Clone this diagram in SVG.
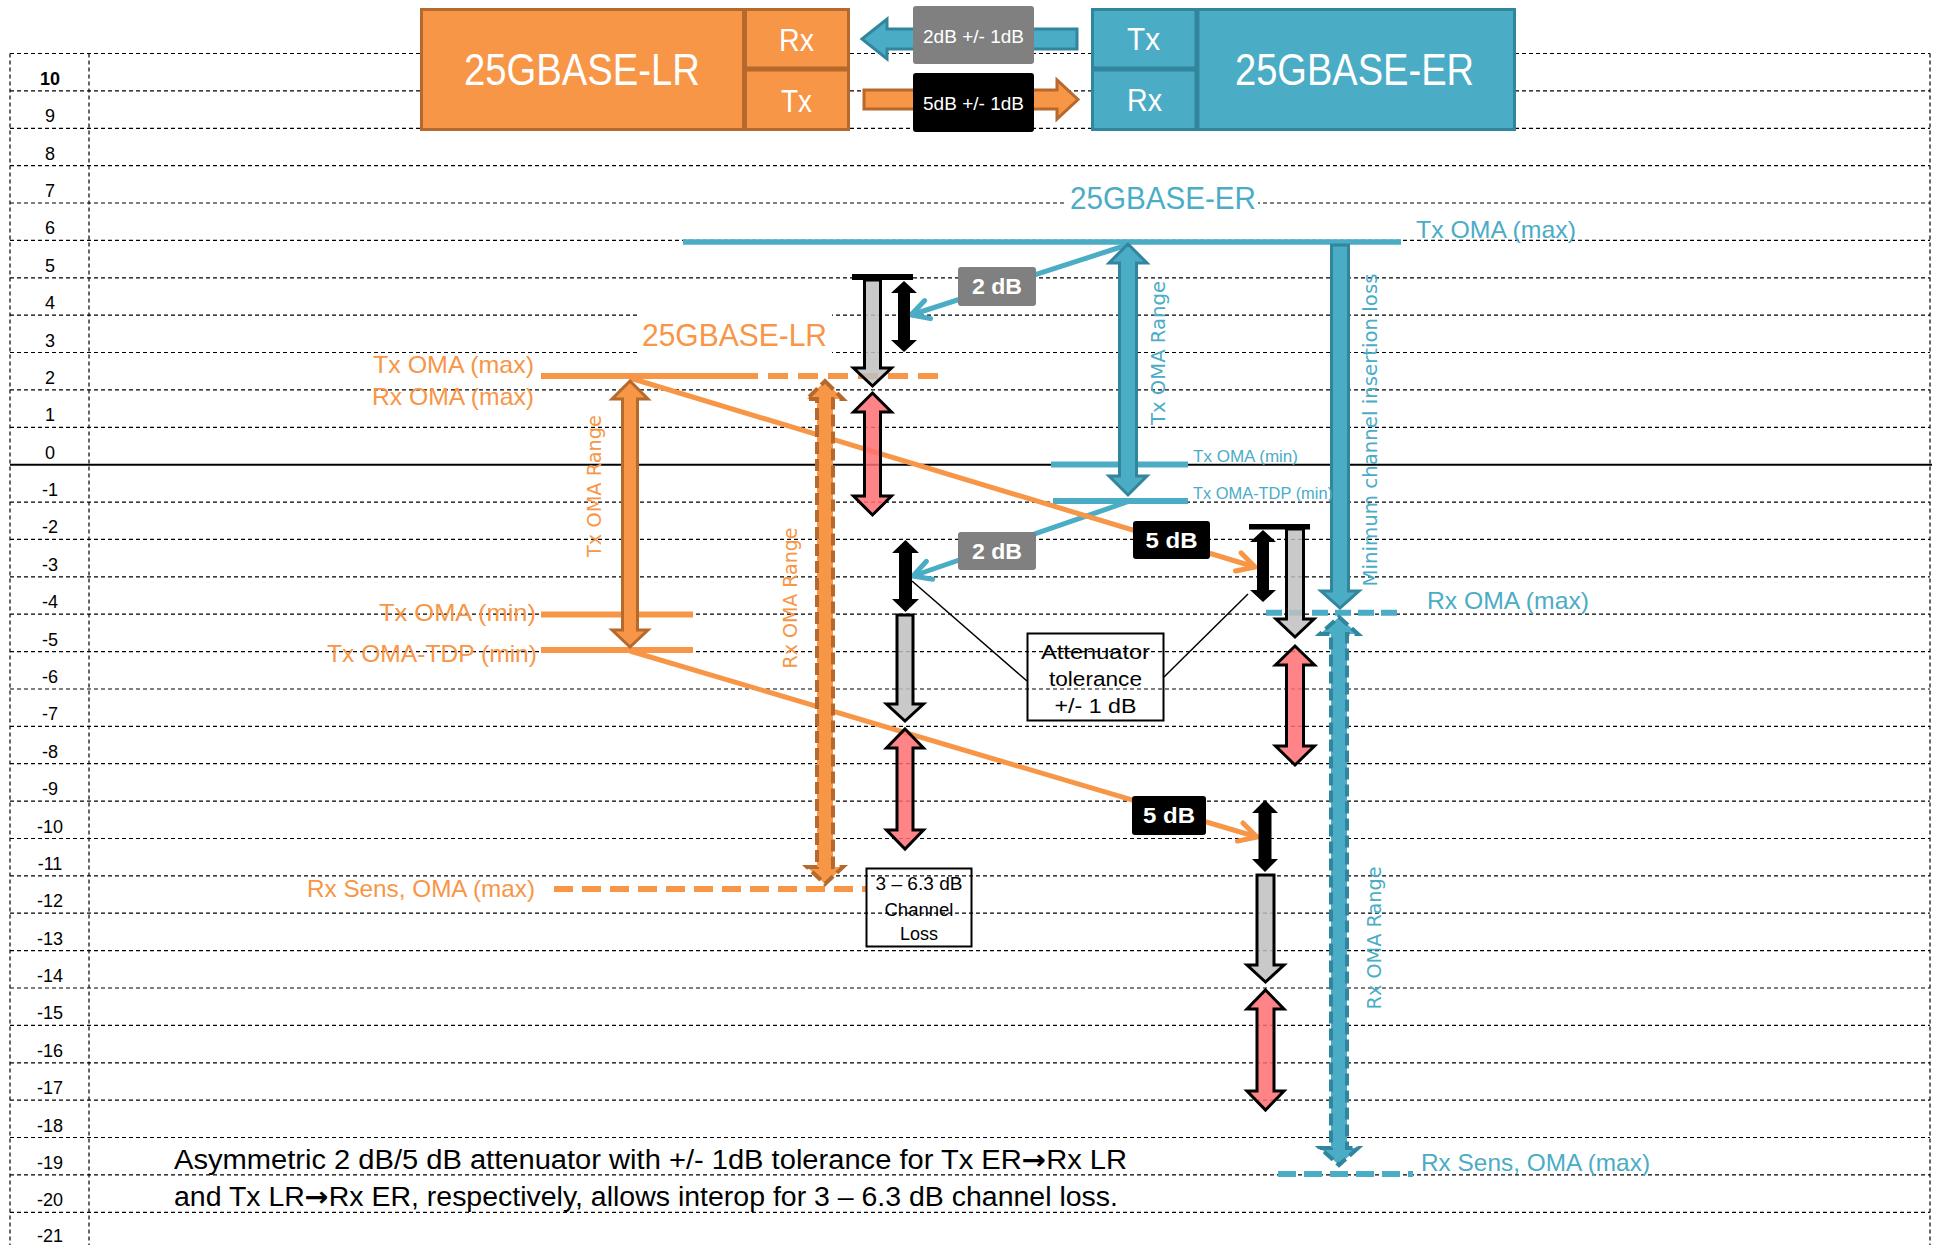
<svg xmlns="http://www.w3.org/2000/svg" width="1934" height="1245" viewBox="0 0 1934 1245">
<defs>
<style>
.t{font-family:"Liberation Sans",Arial,sans-serif}
.v{font-family:"DejaVu Sans",Verdana,sans-serif;font-size:19px}
.grid{stroke:#000;stroke-width:1.2;stroke-dasharray:4 3;fill:none}
.ax{font-family:"Liberation Sans",Arial,sans-serif;font-size:18px;text-anchor:middle;fill:#000}
.or{fill:#F79646}
.cy{fill:#4BACC6}
.orA{fill:#F79646;stroke:#B5692D;stroke-width:3}
.cyA{fill:#4BACC6;stroke:#31859C;stroke-width:3}
.blk{fill:#000}
.gry{fill:#BFBFBF;fill-opacity:0.85;stroke:#000;stroke-width:3}
.red{fill:#FF6F73;fill-opacity:0.85;stroke:#000;stroke-width:3}
.wt{fill:#fff}
.arr{font-family:"DejaVu Sans",sans-serif;font-weight:bold}
</style>
<marker id="ac" viewBox="0 0 10 10" refX="8.5" refY="5" markerWidth="5" markerHeight="5" orient="auto" markerUnits="strokeWidth"><path d="M1.5,1.2 L8.5,5 L1.5,8.8" fill="none" stroke="#4BACC6" stroke-width="2" stroke-linecap="round"/></marker>
<marker id="ao" viewBox="0 0 10 10" refX="8.5" refY="5" markerWidth="5" markerHeight="5" orient="auto" markerUnits="strokeWidth"><path d="M1.5,1.2 L8.5,5 L1.5,8.8" fill="none" stroke="#F79646" stroke-width="2" stroke-linecap="round"/></marker>
</defs>
<rect x="0" y="0" width="1934" height="1245" fill="#fff"/>
<g id="grid">
<path class="grid" d="M10 53.5H1930M10 90.9H1930M10 128.3H1930M10 165.6H1930M10 203H1930M10 240.4H1930M10 277.8H1930M10 315.2H1930M10 352.5H1930M10 389.9H1930M10 427.3H1930M10 502.1H1930M10 539.4H1930M10 576.8H1930M10 614.2H1930M10 651.6H1930M10 689H1930M10 726.3H1930M10 763.7H1930M10 801.1H1930M10 838.5H1930M10 875.9H1930M10 913.2H1930M10 950.6H1930M10 988H1930M10 1025.4H1930M10 1062.8H1930M10 1100.1H1930M10 1137.5H1930M10 1174.9H1930M10 1212.3H1930M10 53.5V1245M89 53.5V1245M1930 53.5V1245"/>
<line x1="10" y1="464.7" x2="1932" y2="464.7" stroke="#000" stroke-width="2"/>
<text class="ax" x="50" y="85" font-weight="bold">10</text>
<text class="ax" x="50" y="122.3">9</text>
<text class="ax" x="50" y="159.6">8</text>
<text class="ax" x="50" y="197">7</text>
<text class="ax" x="50" y="234.4">6</text>
<text class="ax" x="50" y="271.8">5</text>
<text class="ax" x="50" y="309.2">4</text>
<text class="ax" x="50" y="346.5">3</text>
<text class="ax" x="50" y="383.9">2</text>
<text class="ax" x="50" y="421.3">1</text>
<text class="ax" x="50" y="458.7">0</text>
<text class="ax" x="50" y="496.1">-1</text>
<text class="ax" x="50" y="533.4">-2</text>
<text class="ax" x="50" y="570.8">-3</text>
<text class="ax" x="50" y="608.2">-4</text>
<text class="ax" x="50" y="645.6">-5</text>
<text class="ax" x="50" y="683">-6</text>
<text class="ax" x="50" y="720.3">-7</text>
<text class="ax" x="50" y="757.7">-8</text>
<text class="ax" x="50" y="795.1">-9</text>
<text class="ax" x="50" y="832.5">-10</text>
<text class="ax" x="50" y="869.9">-11</text>
<text class="ax" x="50" y="907.2">-12</text>
<text class="ax" x="50" y="944.6">-13</text>
<text class="ax" x="50" y="982">-14</text>
<text class="ax" x="50" y="1019.4">-15</text>
<text class="ax" x="50" y="1056.8">-16</text>
<text class="ax" x="50" y="1094.1">-17</text>
<text class="ax" x="50" y="1131.5">-18</text>
<text class="ax" x="50" y="1168.9">-19</text>
<text class="ax" x="50" y="1206.3">-20</text>
<text class="ax" x="50" y="1242">-21</text>
</g>

<g id="lr-module">
<rect x="421.5" y="9.5" width="427" height="120" class="orA" stroke-width="5"/>
<line x1="744.5" y1="9.5" x2="744.5" y2="129.5" stroke="#B5692D" stroke-width="5"/>
<line x1="744.5" y1="69" x2="848.5" y2="69" stroke="#B5692D" stroke-width="5"/>
<text class="t wt" x="464" y="85" font-size="44" textLength="236" lengthAdjust="spacingAndGlyphs">25GBASE-LR</text>
<text class="t wt" x="779" y="51" font-size="32" textLength="35" lengthAdjust="spacingAndGlyphs">Rx</text>
<text class="t wt" x="781" y="112" font-size="32" textLength="31" lengthAdjust="spacingAndGlyphs">Tx</text>
</g>
<g id="er-module">
<rect x="1092.5" y="9.5" width="422" height="120" class="cyA" stroke-width="5"/>
<line x1="1197" y1="9.5" x2="1197" y2="129.5" stroke="#31859C" stroke-width="5"/>
<line x1="1092.5" y1="69" x2="1197" y2="69" stroke="#31859C" stroke-width="5"/>
<text class="t wt" x="1235" y="85" font-size="44" textLength="239" lengthAdjust="spacingAndGlyphs">25GBASE-ER</text>
<text class="t wt" x="1127" y="50" font-size="32" textLength="33" lengthAdjust="spacingAndGlyphs">Tx</text>
<text class="t wt" x="1127" y="111" font-size="32" textLength="35" lengthAdjust="spacingAndGlyphs">Rx</text>
</g>
<g id="hdr-arrows">
<polygon class="cyA" points="862,39 887,19 887,29 1077,29 1077,49 887,49 887,59"/>
<polygon class="orA" points="864,90 1057,90 1057,80 1078,99.5 1057,119 1057,109 864,109"/>
</g>
<g id="att-2db-hdr">
<rect x="913" y="6" width="121" height="58" rx="3" fill="#808080"/>
<text class="t wt" x="923" y="43" font-size="19" textLength="101" lengthAdjust="spacingAndGlyphs">2dB +/- 1dB</text>
</g>
<g id="att-5db-hdr">
<rect x="913" y="73" width="121" height="59" rx="3" fill="#000"/>
<text class="t wt" x="923" y="110" font-size="19" textLength="101" lengthAdjust="spacingAndGlyphs">5dB +/- 1dB</text>
</g>

<g id="er-title">
<rect x="1066" y="184" width="192" height="40" fill="#fff"/>
<text class="t cy" x="1070" y="209" font-size="31" textLength="186" lengthAdjust="spacingAndGlyphs">25GBASE-ER</text>
</g>
<g id="lr-title">
<rect x="640" y="306" width="192" height="52" fill="#fff"/>
<text class="t or" x="642" y="346" font-size="31" textLength="185" lengthAdjust="spacingAndGlyphs">25GBASE-LR</text>
</g>

<g id="levels">
<line x1="683" y1="242" x2="1401" y2="242" stroke="#4BACC6" stroke-width="5.5"/>
<line x1="1051" y1="464.5" x2="1188" y2="464.5" stroke="#4BACC6" stroke-width="6"/>
<line x1="1053" y1="501" x2="1188" y2="501" stroke="#4BACC6" stroke-width="6"/>
<line x1="1266" y1="612.7" x2="1399" y2="612.7" stroke="#4BACC6" stroke-width="6" stroke-dasharray="16 7"/>
<line x1="1278" y1="1174" x2="1413" y2="1174" stroke="#4BACC6" stroke-width="6" stroke-dasharray="18 8"/>
<line x1="541" y1="376" x2="738" y2="376" stroke="#F79646" stroke-width="6"/>
<line x1="738" y1="376" x2="943" y2="376" stroke="#F79646" stroke-width="6" stroke-dasharray="20 10"/>
<line x1="541" y1="614.5" x2="693" y2="614.5" stroke="#F79646" stroke-width="6"/>
<line x1="541" y1="650" x2="693" y2="650" stroke="#F79646" stroke-width="6"/>
<line x1="554" y1="889" x2="867" y2="889" stroke="#F79646" stroke-width="6" stroke-dasharray="19 9"/>
</g>

<g id="connectors">
<line x1="1127" y1="245" x2="911" y2="315" stroke="#4BACC6" stroke-width="5" marker-end="url(#ac)"/>
<line x1="1127" y1="502" x2="913" y2="576" stroke="#4BACC6" stroke-width="5" marker-end="url(#ac)"/>
<line x1="630" y1="378" x2="1255" y2="567" stroke="#F79646" stroke-width="5" marker-end="url(#ao)"/>
<line x1="630" y1="651" x2="1257" y2="837" stroke="#F79646" stroke-width="5" marker-end="url(#ao)"/>
<line x1="1027" y1="681" x2="912" y2="581" stroke="#000" stroke-width="1.5"/>
<line x1="1164" y1="677" x2="1248" y2="594" stroke="#000" stroke-width="1.5"/>
</g>

<g id="er-tx-range">
<polygon class="cyA" points="1128,244 1147,263 1136.5,263 1136.5,476 1147,476 1128,495 1109,476 1119.5,476 1119.5,263 1109,263"/>
<text class="v cy" transform="translate(1165,353) rotate(-90)" text-anchor="middle" textLength="144" lengthAdjust="spacingAndGlyphs">Tx OMA Range</text>
</g>
<g id="er-min-loss">
<polygon class="cyA" points="1331.5,245 1348.5,245 1348.5,591 1359,591 1340,608 1321,591 1331.5,591"/>
<text class="v cy" transform="translate(1377,430) rotate(-90)" text-anchor="middle" textLength="313" lengthAdjust="spacingAndGlyphs">Minimum channel insertion loss</text>
</g>
<g id="er-rx-range">
<polygon points="1339,617 1358,634 1347,634 1347,1148 1358,1148 1339,1165 1320,1148 1331,1148 1331,634 1320,634" fill="#4BACC6" stroke="#31859C" stroke-width="4" stroke-dasharray="12 5"/>
<text class="v cy" transform="translate(1381,938) rotate(-90)" text-anchor="middle" textLength="143" lengthAdjust="spacingAndGlyphs">Rx OMA Range</text>
</g>
<g id="lr-tx-range">
<polygon class="orA" points="630,381 648,399 637.5,399 637.5,630 648,630 630,647 612,630 622.5,630 622.5,399 612,399"/>
<text class="v or" transform="translate(601,486) rotate(-90)" text-anchor="middle" textLength="142" lengthAdjust="spacingAndGlyphs">Tx OMA Range</text>
</g>
<g id="lr-rx-range">
<polygon points="825,381 843,399 833,399 833,867 843,867 825,884 807,867 817,867 817,399 807,399" fill="#F79646" stroke="#B5692D" stroke-width="4" stroke-dasharray="12 5"/>
<text class="v or" transform="translate(797,598) rotate(-90)" text-anchor="middle" textLength="141" lengthAdjust="spacingAndGlyphs">Rx OMA Range</text>
</g>

<g id="lr-att-top">
<rect x="852" y="274" width="61" height="6" class="blk"/>
<polygon class="gry" points="864.5,280 880.5,280 880.5,368 891.5,368 872.5,386 853.5,368 864.5,368"/>
<polygon class="blk" points="904,281 917,293 910,293 910,340 917,340 904,352 891,340 898,340 898,293 891,293"/>
<polygon class="red" points="872.5,393 891.5,412 880.5,412 880.5,496 891.5,496 872.5,515 853.5,496 864.5,496 864.5,412 853.5,412"/>
</g>
<g id="lr-att-bottom">
<polygon class="blk" points="905.5,540 919,553 912,553 912,599 919,599 905.5,612 892,599 899,599 899,553 892,553"/>
<polygon class="gry" points="897,615 913,615 913,704 923.5,704 905,721 886.5,704 897,704"/>
<polygon class="red" points="905,729 923.5,748 913,748 913,830 923.5,830 905,849 886.5,830 897,830 897,748 886.5,748"/>
</g>
<g id="er-att-top">
<rect x="1249" y="524" width="61" height="5.5" class="blk"/>
<polygon class="blk" points="1263,530 1276,542 1269,542 1269,590 1276,590 1263,602 1250,590 1257,590 1257,542 1250,542"/>
<polygon class="gry" points="1286.5,529 1303.5,529 1303.5,619 1314,619 1295,637 1276,619 1286.5,619"/>
<polygon class="red" points="1295,646 1314.5,665 1303.5,665 1303.5,746 1314.5,746 1295,765 1275.5,746 1286.5,746 1286.5,665 1275.5,665"/>
</g>
<g id="er-att-bottom">
<polygon class="blk" points="1265,800 1278,813 1271.5,813 1271.5,859 1278,859 1265,872 1252,859 1258.5,859 1258.5,813 1252,813"/>
<polygon class="gry" points="1257,875 1274,875 1274,965 1284,965 1265.5,982 1247,965 1257,965"/>
<polygon class="red" points="1265.5,990 1284,1009 1274,1009 1274,1091 1284,1091 1265.5,1110 1247,1091 1257,1091 1257,1009 1247,1009"/>
</g>

<g id="label-2db-a">
<rect x="958" y="267" width="78" height="39" rx="3" fill="#808080"/>
<text class="t wt" x="997" y="294" font-size="22" font-weight="bold" text-anchor="middle" textLength="50" lengthAdjust="spacingAndGlyphs">2 dB</text>
</g>
<g id="label-2db-b">
<rect x="958" y="532" width="78" height="38" rx="3" fill="#808080"/>
<text class="t wt" x="997" y="559" font-size="22" font-weight="bold" text-anchor="middle" textLength="50" lengthAdjust="spacingAndGlyphs">2 dB</text>
</g>
<g id="label-5db-a">
<rect x="1133" y="521" width="77" height="38" rx="3" fill="#000"/>
<text class="t wt" x="1171.5" y="548" font-size="22" font-weight="bold" text-anchor="middle" textLength="52" lengthAdjust="spacingAndGlyphs">5 dB</text>
</g>
<g id="label-5db-b">
<rect x="1132" y="796" width="74" height="39" rx="3" fill="#000"/>
<text class="t wt" x="1169" y="823" font-size="22" font-weight="bold" text-anchor="middle" textLength="52" lengthAdjust="spacingAndGlyphs">5 dB</text>
</g>

<g id="attenuator-note">
<rect x="1027.5" y="633.5" width="136" height="87" fill="none" stroke="#000" stroke-width="2"/>
<text class="t" x="1095.5" y="659" font-size="20" text-anchor="middle" textLength="109" lengthAdjust="spacingAndGlyphs">Attenuator</text>
<text class="t" x="1095.5" y="686" font-size="20" text-anchor="middle" textLength="93" lengthAdjust="spacingAndGlyphs">tolerance</text>
<text class="t" x="1095.5" y="713" font-size="20" text-anchor="middle" textLength="82" lengthAdjust="spacingAndGlyphs">+/- 1 dB</text>
</g>
<g id="channel-note">
<rect x="866.5" y="868.5" width="105" height="78" fill="none" stroke="#000" stroke-width="2"/>
<text class="t" x="919" y="890" font-size="18" text-anchor="middle" textLength="87" lengthAdjust="spacingAndGlyphs">3 – 6.3 dB</text>
<text class="t" x="919" y="916" font-size="18" text-anchor="middle" textLength="69" lengthAdjust="spacingAndGlyphs">Channel</text>
<text class="t" x="919" y="940" font-size="18" text-anchor="middle" textLength="38" lengthAdjust="spacingAndGlyphs">Loss</text>
</g>

<g id="level-labels">
<text class="t cy" x="1416" y="238" font-size="24" textLength="160" lengthAdjust="spacingAndGlyphs">Tx OMA (max)</text>
<text class="t cy" x="1193" y="462" font-size="16" textLength="105" lengthAdjust="spacingAndGlyphs">Tx OMA (min)</text>
<text class="t cy" x="1193" y="499" font-size="16" textLength="140" lengthAdjust="spacingAndGlyphs">Tx OMA-TDP (min)</text>
<text class="t cy" x="1427" y="609" font-size="24" textLength="162" lengthAdjust="spacingAndGlyphs">Rx OMA (max)</text>
<text class="t cy" x="1421" y="1171" font-size="24" textLength="229" lengthAdjust="spacingAndGlyphs">Rx Sens, OMA (max)</text>
<text class="t or" x="373" y="373" font-size="24" textLength="161" lengthAdjust="spacingAndGlyphs">Tx OMA (max)</text>
<text class="t or" x="372" y="405" font-size="24" textLength="162" lengthAdjust="spacingAndGlyphs">Rx OMA (max)</text>
<text class="t or" x="379" y="621" font-size="24" textLength="157" lengthAdjust="spacingAndGlyphs">Tx OMA (min)</text>
<text class="t or" x="327" y="662" font-size="24" textLength="210" lengthAdjust="spacingAndGlyphs">Tx OMA-TDP (min)</text>
<text class="t or" x="307" y="897" font-size="24" textLength="228" lengthAdjust="spacingAndGlyphs">Rx Sens, OMA (max)</text>
</g>

<g id="caption">
<text class="t" x="174" y="1169" font-size="27" textLength="953" lengthAdjust="spacingAndGlyphs">Asymmetric 2 dB/5 dB attenuator with +/- 1dB tolerance for Tx ER<tspan class="arr">→</tspan>Rx LR</text>
<text class="t" x="174" y="1206" font-size="27" textLength="944" lengthAdjust="spacingAndGlyphs">and Tx LR<tspan class="arr">→</tspan>Rx ER, respectively, allows interop for 3 – 6.3 dB channel loss.</text>
</g>
</svg>
